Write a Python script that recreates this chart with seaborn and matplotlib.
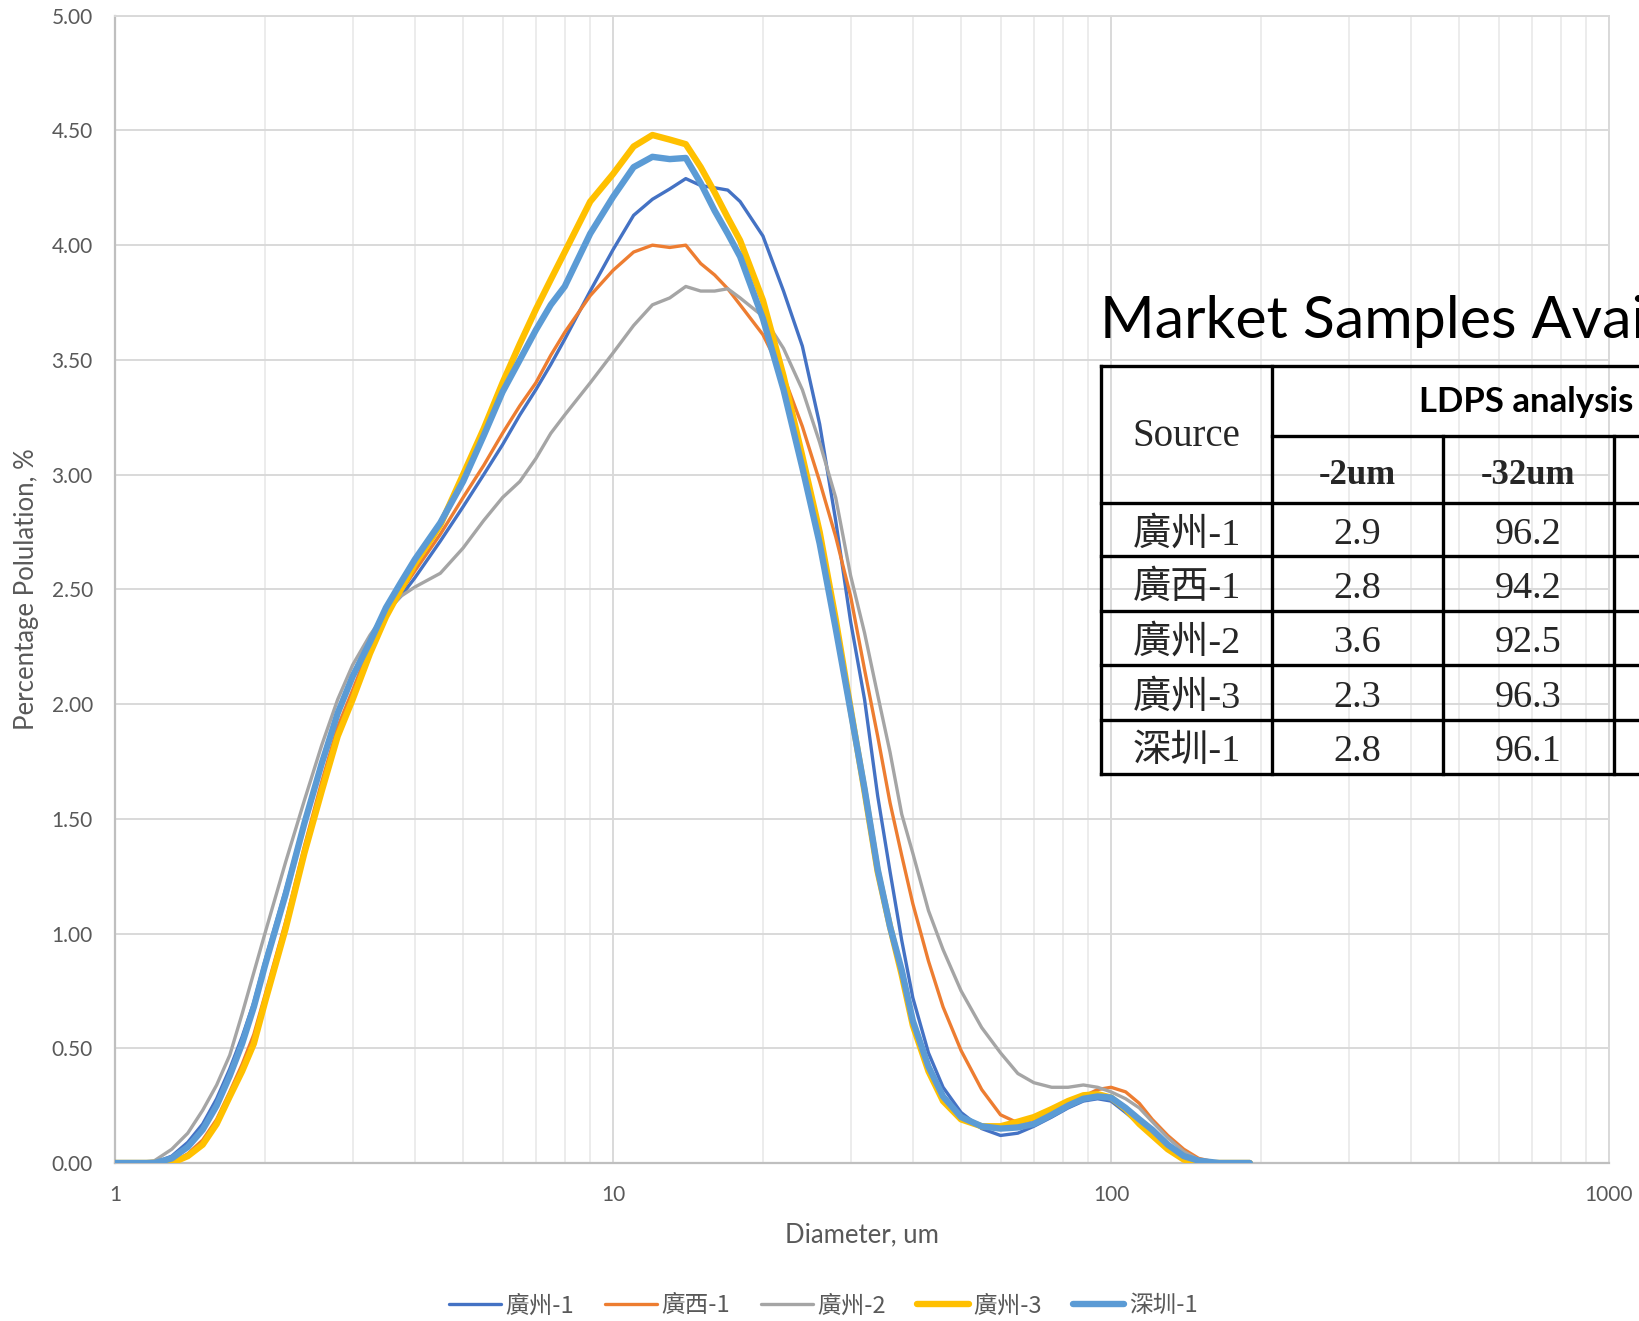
import numpy as np
import pandas as pd
import seaborn as sns
import matplotlib.pyplot as plt
from matplotlib.lines import Line2D
from matplotlib.ticker import FixedLocator, LogLocator, NullFormatter, FuncFormatter

# diameter grid (um) and the five size distributions
diameter = [1, 1.1, 1.2, 1.3, 1.4, 1.5, 1.6, 1.7, 1.8, 1.9,
            2.0, 2.2, 2.4, 2.6, 2.8, 3.0, 3.25, 3.5, 3.75, 4.0,
            4.5, 5.0, 5.5, 6.0, 6.5, 7.0, 7.5, 8.0, 9.0, 10,
            11, 12, 13, 14, 15, 16, 17, 18, 20, 22,
            24, 26, 28, 30, 32, 34, 36, 38, 40, 43,
            46, 50, 55, 60, 65, 70, 76, 82, 88, 94,
            100, 107, 114, 121, 130, 140, 150, 165, 190]

guangzhou_1 = [0, 0, 0, 0.03, 0.09, 0.17, 0.28, 0.41, 0.55, 0.70,
               0.88, 1.19, 1.49, 1.75, 1.97, 2.13, 2.28, 2.40, 2.47, 2.55,
               2.71, 2.86, 3.00, 3.13, 3.26, 3.37, 3.48, 3.59, 3.80, 3.98,
               4.13, 4.20, 4.245, 4.29, 4.26, 4.25, 4.24, 4.19, 4.04, 3.80,
               3.56, 3.22, 2.80, 2.36, 2.02, 1.60, 1.27, 0.97, 0.72, 0.48,
               0.33, 0.22, 0.15, 0.12, 0.13, 0.16, 0.20, 0.24, 0.27, 0.28,
               0.27, 0.22, 0.17, 0.13, 0.06, 0.015, 0, 0, 0]

guangxi_1 = [0, 0, 0, 0, 0.04, 0.10, 0.19, 0.31, 0.43, 0.56,
             0.73, 1.05, 1.38, 1.66, 1.90, 2.06, 2.25, 2.40, 2.49, 2.58,
             2.74, 2.90, 3.04, 3.18, 3.30, 3.40, 3.52, 3.62, 3.78, 3.89,
             3.97, 4.00, 3.99, 4.00, 3.92, 3.87, 3.81, 3.74, 3.61, 3.43,
             3.21, 2.97, 2.73, 2.47, 2.15, 1.86, 1.57, 1.34, 1.13, 0.88,
             0.68, 0.49, 0.32, 0.21, 0.175, 0.19, 0.22, 0.26, 0.29, 0.32,
             0.33, 0.31, 0.26, 0.19, 0.12, 0.06, 0.02, 0, 0]

guangzhou_2 = [0, 0, 0.01, 0.06, 0.13, 0.23, 0.34, 0.47, 0.65, 0.83,
               1.0, 1.31, 1.58, 1.82, 2.02, 2.17, 2.30, 2.40, 2.47, 2.51,
               2.57, 2.68, 2.80, 2.90, 2.97, 3.07, 3.18, 3.26, 3.40, 3.53,
               3.65, 3.74, 3.77, 3.82, 3.80, 3.80, 3.81, 3.77, 3.69, 3.55,
               3.37, 3.14, 2.90, 2.56, 2.31, 2.04, 1.79, 1.52, 1.35, 1.10,
               0.93, 0.75, 0.59, 0.48, 0.39, 0.35, 0.33, 0.33, 0.34, 0.33,
               0.31, 0.28, 0.24, 0.18, 0.11, 0.05, 0.015, 0, 0]

guangzhou_3 = [0, 0, 0, 0, 0.03, 0.08, 0.17, 0.29, 0.40, 0.52,
               0.70, 1.02, 1.35, 1.62, 1.86, 2.02, 2.22, 2.38, 2.50, 2.61,
               2.78, 3.00, 3.20, 3.40, 3.57, 3.72, 3.85, 3.97, 4.19, 4.31,
               4.43, 4.48, 4.46, 4.44, 4.34, 4.23, 4.12, 4.02, 3.76, 3.43,
               3.08, 2.75, 2.37, 1.98, 1.62, 1.27, 1.03, 0.82, 0.60, 0.40,
               0.27, 0.19, 0.16, 0.16, 0.18, 0.20, 0.235, 0.27, 0.295, 0.30,
               0.285, 0.235, 0.17, 0.12, 0.06, 0.015, 0, 0, 0]

shenzhen_1 = [0, 0, 0, 0.02, 0.07, 0.145, 0.25, 0.38, 0.52, 0.68,
              0.86, 1.17, 1.48, 1.74, 1.96, 2.12, 2.27, 2.42, 2.53, 2.63,
              2.79, 2.97, 3.17, 3.36, 3.50, 3.63, 3.74, 3.82, 4.05, 4.21,
              4.34, 4.385, 4.375, 4.38, 4.27, 4.15, 4.05, 3.95, 3.68, 3.37,
              3.03, 2.70, 2.33, 1.97, 1.63, 1.28, 1.03, 0.84, 0.62, 0.42,
              0.29, 0.20, 0.16, 0.15, 0.155, 0.17, 0.21, 0.25, 0.28, 0.29,
              0.285, 0.24, 0.19, 0.145, 0.08, 0.03, 0.01, 0, 0]

sample_names = ['廣州-1', '廣西-1', '廣州-2', '廣州-3', '深圳-1']
sample_colors = ['#4472C4', '#ED7D31', '#A5A5A5', '#FFC000', '#5B9BD5']
sample_widths = [2.4, 2.4, 2.4, 4.6, 4.6]

# table pasted over the chart
table_sources = ['廣州-1', '廣西-1', '廣州-2', '廣州-3', '深圳-1']
table_minus_2 = ['2.9', '2.8', '3.6', '2.3', '2.8']
table_minus_32 = ['96.2', '94.2', '92.5', '96.3', '96.1']

# long format for seaborn
df = pd.DataFrame({
    'diameter': diameter * 5,
    'pct': guangzhou_1 + guangxi_1 + guangzhou_2 + guangzhou_3 + shenzhen_1,
    'sample': np.repeat(sample_names, len(diameter)),
})

sns.set_style('white')
plt.rcParams['font.family'] = ['Lato', 'Noto Sans CJK TC', 'DejaVu Sans']

W, H = 1640, 1321
fig = plt.figure(figsize=(W / 100, H / 100), dpi=100)
ax = fig.add_axes([115 / W, 1 - 1163 / H, (1609 - 115) / W, (1163 - 15.7) / H])

sns.lineplot(data=df, x='diameter', y='pct', hue='sample', hue_order=sample_names,
             palette=dict(zip(sample_names, sample_colors)),
             size='sample', sizes=dict(zip(sample_names, sample_widths)),
             size_order=sample_names, errorbar=None, legend=False, ax=ax)
for ln in ax.get_lines():
    ln.set_solid_capstyle('round')
    ln.set_solid_joinstyle('round')
    ln.set_zorder(3)

ax.set_xscale('log')
ax.set_xlim(1, 1000)
ax.set_ylim(0, 5)
ax.xaxis.set_major_locator(FixedLocator([1, 10, 100, 1000]))
ax.xaxis.set_major_formatter(FuncFormatter(lambda v, _: f'{v:g}'))
ax.xaxis.set_minor_locator(LogLocator(base=10, subs=range(2, 10)))
ax.xaxis.set_minor_formatter(NullFormatter())
ax.yaxis.set_major_locator(FixedLocator(np.arange(0, 5.01, 0.5)))
ax.yaxis.set_major_formatter(FuncFormatter(lambda v, _: f'{v:.2f}'))

ax.grid(which='major', color='#D9D9D9', linewidth=1.4)
ax.grid(which='minor', axis='x', color='#ECECEC', linewidth=1.4)
ax.set_axisbelow(True)
for side in ['top', 'right']:
    ax.spines[side].set_color('#D9D9D9')
    ax.spines[side].set_linewidth(1.4)
for side in ['left', 'bottom']:
    ax.spines[side].set_color('#BFBFBF')
    ax.spines[side].set_linewidth(1.6)

ax.tick_params(which='both', length=0, labelsize=15, labelcolor='#595959')
ax.tick_params(axis='y', pad=16)
ax.tick_params(axis='x', pad=16)
ax.set_xlabel('Diameter, um', fontsize=18.5, color='#595959', labelpad=12)
ax.set_ylabel('Percentage Polulation, %', fontsize=18.5, color='#595959', labelpad=9)

handles = [Line2D([], [], color=c, linewidth=w) for c, w in zip(sample_colors, sample_widths)]
leg = fig.legend(handles, sample_names, loc='center', bbox_to_anchor=(0.502, 1 - 1306 / H),
                 ncol=5, frameon=False, handlelength=2.2, handletextpad=0.2, columnspacing=1.3,
                 prop={'family': ['Noto Sans CJK TC'], 'size': 17})
for t in leg.get_texts():
    t.set_color('#595959')


# ---- overlay table (pixel layout of the pasted picture) ----
def fx(px):
    return px / W


def fy(py):
    return 1 - py / H


def hline(y, x0, x1):
    fig.add_artist(Line2D([fx(x0), fx(x1)], [fy(y), fy(y)], color='black', linewidth=2.4,
                          solid_capstyle='projecting'))


def vline(x, y0, y1):
    fig.add_artist(Line2D([fx(x), fx(x)], [fy(y0), fy(y1)], color='black', linewidth=2.4,
                          solid_capstyle='projecting'))


col_x = [1101, 1272, 1443, 1614]
row_y = [503, 556, 611, 665, 720, 774]
right_edge = 1660

hline(366, col_x[0], right_edge)
hline(436, col_x[1], right_edge)
for y in row_y:
    hline(y, col_x[0], right_edge)
vline(col_x[0], 366, 774)
vline(col_x[1], 366, 774)
vline(col_x[2], 436, 774)
vline(col_x[3], 436, 774)

fig.text(fx(1100), fy(338), 'Market Samples Available', fontsize=42.5, family='Lato',
         ha='left', va='baseline', color='black')
fig.text(fx(1419), fy(402), 'LDPS analysis', fontsize=25, family='Lato', fontweight='bold',
         ha='left', va='center', color='black')

serif = ['Liberation Serif', 'Noto Sans CJK TC']
fig.text(fx((col_x[0] + col_x[1]) / 2), fy(437), 'Source', fontsize=28, family=serif,
         ha='center', va='center')
fig.text(fx((col_x[1] + col_x[2]) / 2), fy(476), '-2um', fontsize=25, family=serif,
         fontweight='bold', ha='center', va='center')
fig.text(fx((col_x[2] + col_x[3]) / 2), fy(476), '-32um', fontsize=25, family=serif,
         fontweight='bold', ha='center', va='center')

for i, (src, v2, v32) in enumerate(zip(table_sources, table_minus_2, table_minus_32)):
    yc = (row_y[i] + row_y[i + 1]) / 2 + 5
    fig.text(fx((col_x[0] + col_x[1]) / 2), fy(yc), src, fontsize=27.5, family=serif,
             ha='center', va='center')
    fig.text(fx((col_x[1] + col_x[2]) / 2), fy(yc), v2, fontsize=27.5, family=serif,
             ha='center', va='center')
    fig.text(fx((col_x[2] + col_x[3]) / 2), fy(yc), v32, fontsize=27.5, family=serif,
             ha='center', va='center')

fig.savefig('out.png', dpi=100)
